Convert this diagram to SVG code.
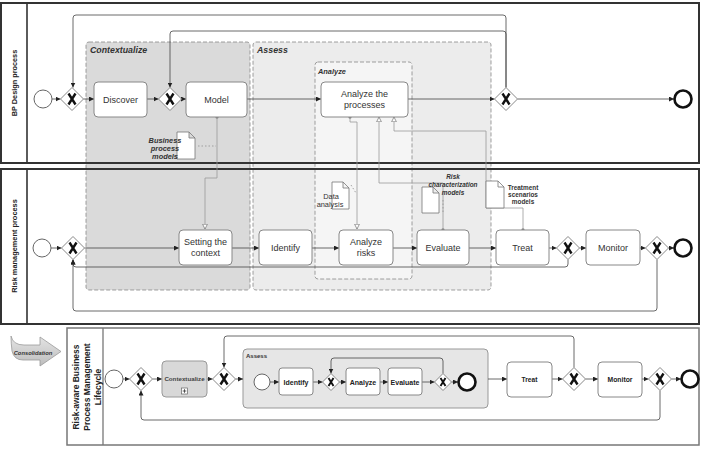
<svg xmlns="http://www.w3.org/2000/svg" width="701" height="453" viewBox="0 0 701 453">
<defs>
<style>
.pool{fill:none;stroke:#333;stroke-width:2}
.pool3{fill:none;stroke:#777;stroke-width:1.5}
.grp{stroke:#888;stroke-width:0.8;stroke-dasharray:4 2}
.task{fill:#fff;stroke:#888;stroke-width:1}
.gw{fill:#fff;stroke:#888;stroke-width:1}
.xm{stroke:#111;stroke-width:2.4;fill:none}
.xs{stroke:#111;stroke-width:1.9;fill:none}
.start{fill:#fff;stroke:#666;stroke-width:1}
.end{fill:#fff;stroke:#111;stroke-width:2.6}
.flow{fill:none;stroke:#444;stroke-width:0.8;marker-end:url(#arr)}
.data{fill:none;stroke:#999;stroke-width:0.8}
.dot{fill:none;stroke:#999;stroke-width:0.9;stroke-dasharray:1.5 2}
.doc{fill:#fff;stroke:#777;stroke-width:0.8}
.t{font-family:"Liberation Sans",Arial,sans-serif;font-size:9px;fill:#333;text-anchor:middle}
.b{font-weight:bold}
.i{font-style:italic}
.s{font-size:7px;font-weight:bold;fill:#222}
</style>
<marker id="arr" viewBox="0 0 8 8" refX="8" refY="4" markerWidth="5" markerHeight="5" markerUnits="userSpaceOnUse" orient="auto"><path d="M0,0 L8,4 L0,8 z" fill="#222"/></marker>
<marker id="hol" viewBox="0 0 10 10" refX="9" refY="5" markerWidth="6" markerHeight="6" markerUnits="userSpaceOnUse" orient="auto"><path d="M1,1 L9,5 L1,9 z" fill="#fff" stroke="#777" stroke-width="1.2"/></marker>
<marker id="dt" viewBox="0 0 6 6" refX="3" refY="3" markerWidth="4" markerHeight="4" markerUnits="userSpaceOnUse"><circle cx="3" cy="3" r="2.5" fill="#888"/></marker>
<linearGradient id="cg" x1="0" y1="0" x2="0" y2="1"><stop offset="0" stop-color="#e4e4e4"/><stop offset="1" stop-color="#bdbdbd"/></linearGradient>
</defs>

<!-- pool backgrounds -->
<rect x="1" y="3" width="698" height="160" fill="#fff"/>
<rect x="1" y="169" width="698" height="155" fill="#fff"/>
<rect x="67" y="328" width="632" height="117" fill="#fff"/>

<!-- groups -->
<g id="group-contextualize">
<rect class="grp" x="86" y="42" width="164" height="248" rx="3" fill="#dadada"/>
<text class="t b i" x="90" y="53" style="text-anchor:start;font-size:8.8px;fill:#333">Contextualize</text>
</g>
<g id="group-assess">
<rect class="grp" x="253" y="42" width="238" height="248" rx="3" fill="#ececec"/>
<text class="t b i" x="257" y="53" style="text-anchor:start;font-size:8.8px;fill:#333">Assess</text>
</g>
<g id="group-analyze">
<rect class="grp" x="315" y="62" width="97" height="217" rx="3" fill="#f5f5f5"/>
<text class="t b i" x="318" y="74" style="text-anchor:start;font-size:7.4px;fill:#333">Analyze</text>
</g>

<!-- pool outlines -->
<g id="pool-bp">
<rect class="pool" x="1" y="3" width="698" height="160"/>
<line x1="27" y1="3" x2="27" y2="163" stroke="#333" stroke-width="1.6"/>
<text class="t b" transform="translate(17,83) rotate(-90)" style="font-size:7.3px;fill:#222">BP Design process</text>
</g>
<g id="pool-risk">
<rect class="pool" x="1" y="169" width="698" height="155"/>
<line x1="27" y1="169" x2="27" y2="324" stroke="#333" stroke-width="1.6"/>
<text class="t b" transform="translate(17,246) rotate(-90)" style="font-size:7.4px;fill:#222">Risk management process</text>
</g>
<g id="pool-lifecycle">
<rect class="pool3" x="67" y="328" width="632" height="117"/>
<line x1="103" y1="328" x2="103" y2="445" stroke="#777" stroke-width="1.3"/>
<text class="t b" transform="translate(78.5,387) rotate(-90)" style="font-size:8.5px;fill:#222">Risk-aware Business</text>
<text class="t b" transform="translate(89.5,387) rotate(-90)" style="font-size:8.5px;fill:#222">Process Management</text>
<text class="t b" transform="translate(100.5,387) rotate(-90)" style="font-size:8.5px;fill:#222">Lifecycle</text>
</g>

<g id="consolidation">
<path d="M11,336 Q13,345 24,345 L40,345 L40,337 L61,351.5 L40,366 L40,360 L23,360 Q14,360 12,351 Q11,343 11,336 Z" fill="url(#cg)" stroke="#999" stroke-width="0.8"/>
<text class="t b i" x="33" y="355" style="font-size:5.8px;fill:#333">Consolidation</text>
</g>

<g id="lc-assess">
<rect x="243" y="349" width="245" height="59" rx="4" fill="#e6e6e6" stroke="#999"/>
<text class="t b" x="246" y="358" style="text-anchor:start;font-size:6px;fill:#333">Assess</text>
</g>

<!-- connectors -->
<g id="connectors">
<!-- pool 1 -->
<line class="flow" x1="52" y1="99" x2="60.5" y2="99"/>
<line class="flow" x1="83.5" y1="99" x2="94" y2="99"/>
<line class="flow" x1="147" y1="99" x2="158.5" y2="99"/>
<line class="flow" x1="181.5" y1="99" x2="186" y2="99"/>
<line class="flow" x1="247" y1="99" x2="321" y2="99"/>
<line class="flow" x1="408" y1="99" x2="494.5" y2="99"/>
<line class="flow" x1="517.5" y1="99" x2="674" y2="99"/>
<path class="flow" d="M506,87.5 V18 Q506,15 503,15 H76 Q73,15 73,18 V87.5"/>
<path class="flow" d="M506,87.5 V34 Q506,31 503,31 H173 Q170,31 170,34 V87.5"/>
<!-- pool 2 -->
<line class="flow" x1="51" y1="248" x2="61.5" y2="248"/>
<line class="flow" x1="84.5" y1="248" x2="179" y2="248"/>
<line class="flow" x1="232" y1="248" x2="259" y2="248"/>
<line class="flow" x1="312" y1="248" x2="339" y2="248"/>
<line class="flow" x1="393" y1="248" x2="417" y2="248"/>
<line class="flow" x1="469" y1="248" x2="496" y2="248"/>
<line class="flow" x1="549" y1="248" x2="556.5" y2="248"/>
<line class="flow" x1="579.5" y1="248" x2="586" y2="248"/>
<line class="flow" x1="640" y1="248" x2="645.5" y2="248"/>
<line class="flow" x1="668.5" y1="248" x2="674" y2="248"/>
<path class="flow" d="M568,259.5 V264 Q568,267 565,267 H76 Q73,267 73,264 V259.5"/>
<path class="flow" d="M657,259.5 V308 Q657,311 654,311 H76 Q73,311 73,308 V259.5"/>
<!-- data flows -->
<path class="data" d="M217,117 V178 H205 V229" marker-start="url(#dt)" marker-end="url(#hol)"/>
<path class="data" d="M350,117 V122 H357 V229" marker-start="url(#dt)" marker-end="url(#hol)"/>
<path class="data" d="M443,230 V183 H379 V117" marker-start="url(#dt)" marker-end="url(#hol)"/>
<path class="data" d="M523,230 V208 H486 V131 H394 V117" marker-start="url(#dt)" marker-end="url(#hol)"/>
<line class="dot" x1="198" y1="146" x2="216" y2="146"/>
<line class="dot" x1="351" y1="185" x2="356" y2="193"/>
<line class="dot" x1="443" y1="200" x2="443" y2="214"/>
<!-- pool 3 -->
<line class="flow" x1="123" y1="379" x2="129.5" y2="379"/>
<line class="flow" x1="152.5" y1="379" x2="162" y2="379"/>
<line class="flow" x1="207" y1="379" x2="212.5" y2="379"/>
<line class="flow" x1="235.5" y1="379" x2="243" y2="379"/>
<line class="flow" x1="488" y1="379" x2="507" y2="379"/>
<line class="flow" x1="552" y1="379" x2="562.5" y2="379"/>
<line class="flow" x1="585.5" y1="379" x2="598" y2="379"/>
<line class="flow" x1="642" y1="379" x2="648.5" y2="379"/>
<line class="flow" x1="671.5" y1="379" x2="681" y2="379"/>
<path class="flow" d="M574,367.5 V339 Q574,336 571,336 H227 Q224,336 224,339 V367.5"/>
<path class="flow" d="M660,390.5 V417 Q660,420 657,420 H144 Q141,420 141,417 V390.5"/>
<line class="flow" x1="270" y1="382" x2="279" y2="382"/>
<line class="flow" x1="313" y1="382" x2="322.5" y2="382"/>
<line class="flow" x1="339.5" y1="382" x2="346" y2="382"/>
<line class="flow" x1="380" y1="382" x2="388" y2="382"/>
<line class="flow" x1="422" y1="382" x2="434.5" y2="382"/>
<line class="flow" x1="451.5" y1="382" x2="458" y2="382"/>
<path class="flow" d="M443,373.5 V361 Q443,358 440,358 H334 Q331,358 331,361 V373.5"/>
</g>

<!-- pool 1 nodes -->
<g id="bp-start"><circle class="start" cx="43" cy="99" r="9"/></g>
<g id="bp-gw1"><polygon class="gw" points="72,87.5 83.5,99 72,110.5 60.5,99"/><path class="xm" d="M68.5,93.5 L75.5,104.5 M75.5,93.5 L68.5,104.5"/></g>
<g id="bp-discover"><rect class="task" x="94" y="82" width="53" height="35" rx="4"/><text class="t" x="120.5" y="102.5">Discover</text></g>
<g id="bp-gw2"><polygon class="gw" points="170,87.5 181.5,99 170,110.5 158.5,99"/><path class="xm" d="M166.5,93.5 L173.5,104.5 M173.5,93.5 L166.5,104.5"/></g>
<g id="bp-model"><rect class="task" x="186" y="82" width="61" height="35" rx="4"/><text class="t" x="216.5" y="102.5">Model</text></g>
<g id="bp-doc"><path class="doc" d="M177,132 H189 L195,138 V159 H177 Z M189,132 V138 H195"/>
<text class="t b i" x="165" y="143" style="font-size:7.4px;fill:#333">Business</text>
<text class="t b i" x="165" y="151" style="font-size:7.4px;fill:#333">process</text>
<text class="t b i" x="165" y="159" style="font-size:7.4px;fill:#333">models</text></g>
<g id="bp-analyze"><rect class="task" x="321" y="82" width="87" height="35" rx="4"/><text class="t" x="364.5" y="97">Analyze the</text><text class="t" x="364.5" y="108">processes</text></g>
<g id="bp-gw3"><polygon class="gw" points="506,87.5 517.5,99 506,110.5 494.5,99"/><path class="xm" d="M502.5,93.5 L509.5,104.5 M509.5,93.5 L502.5,104.5"/></g>
<g id="bp-end"><circle class="end" cx="683" cy="99" r="8.5"/></g>

<!-- pool 2 nodes -->
<g id="rm-start"><circle class="start" cx="42" cy="248" r="9"/></g>
<g id="rm-gw1"><polygon class="gw" points="73,236.5 84.5,248 73,259.5 61.5,248"/><path class="xm" d="M69.5,242.5 L76.5,253.5 M76.5,242.5 L69.5,253.5"/></g>
<g id="rm-setting"><rect class="task" x="179" y="230" width="53" height="35" rx="4"/><text class="t" x="205.5" y="245">Setting the</text><text class="t" x="205.5" y="256">context</text></g>
<g id="rm-identify"><rect class="task" x="259" y="230" width="53" height="35" rx="4"/><text class="t" x="285.5" y="251">Identify</text></g>
<g id="rm-doc-data"><path class="doc" d="M332,182 H343 L349,188 V209 H332 Z M343,182 V188 H349"/>
<text class="t" x="331" y="199" style="font-size:7.4px">Data</text><text class="t" x="330" y="207" style="font-size:7.4px">analysis</text></g>
<g id="rm-analyze"><rect class="task" x="339" y="230" width="54" height="35" rx="4"/><text class="t" x="366" y="245">Analyze</text><text class="t" x="366" y="256">risks</text></g>
<g id="rm-doc-risk"><path class="doc" d="M422,187 H433 L439,193 V213 H422 Z M433,187 V193 H439"/>
<text class="t b i" x="453" y="179" style="font-size:6.4px;fill:#333">Risk</text>
<text class="t b i" x="453" y="187" style="font-size:6.4px;fill:#333">characterization</text>
<text class="t b i" x="453" y="195" style="font-size:6.4px;fill:#333">models</text></g>
<g id="rm-evaluate"><rect class="task" x="417" y="230" width="52" height="35" rx="4"/><text class="t" x="443" y="251">Evaluate</text></g>
<g id="rm-doc-treat"><path class="doc" d="M486,181 H498 L504,187 V208 H486 Z M498,181 V187 H504"/>
<text class="t b" x="523" y="190" style="font-size:6.4px;fill:#333">Treatment</text>
<text class="t b" x="523" y="197" style="font-size:6.4px;fill:#333">scenarios</text>
<text class="t b" x="523" y="204" style="font-size:6.4px;fill:#333">models</text></g>
<g id="rm-treat"><rect class="task" x="496" y="230" width="53" height="35" rx="4"/><text class="t" x="522.5" y="251">Treat</text></g>
<g id="rm-gw2"><polygon class="gw" points="568,236.5 579.5,248 568,259.5 556.5,248"/><path class="xm" d="M564.5,242.5 L571.5,253.5 M571.5,242.5 L564.5,253.5"/></g>
<g id="rm-monitor"><rect class="task" x="586" y="230" width="54" height="35" rx="4"/><text class="t" x="613" y="251">Monitor</text></g>
<g id="rm-gw3"><polygon class="gw" points="657,236.5 668.5,248 657,259.5 645.5,248"/><path class="xm" d="M653.5,242.5 L660.5,253.5 M660.5,242.5 L653.5,253.5"/></g>
<g id="rm-end"><circle class="end" cx="683" cy="248" r="8.5"/></g>

<!-- pool 3 nodes -->
<g id="lc-start"><circle class="start" cx="114" cy="379" r="9"/></g>
<g id="lc-gw1"><polygon class="gw" points="141,367.5 152.5,379 141,390.5 129.5,379"/><path class="xm" d="M137.5,373.5 L144.5,384.5 M144.5,373.5 L137.5,384.5"/></g>
<g id="lc-contextualize"><rect x="162" y="361" width="45" height="36" rx="4" fill="#d8d8d8" stroke="#999"/><text class="t b" x="184.5" y="381" style="font-size:6.2px;fill:#444">Contextualize</text><rect x="181.5" y="388" width="6" height="6" fill="#fff" stroke="#666" stroke-width="0.7"/><path d="M184.5,389.2 V392.8 M182.7,391 H186.3" stroke="#333" stroke-width="0.8"/></g>
<g id="lc-gw2"><polygon class="gw" points="224,367.5 235.5,379 224,390.5 212.5,379"/><path class="xm" d="M220.5,373.5 L227.5,384.5 M227.5,373.5 L220.5,384.5"/></g>
<g id="lc-a-start"><circle class="start" cx="262" cy="382" r="8"/></g>
<g id="lc-a-identify"><rect class="task" x="279" y="368" width="34" height="27" rx="3"/><text class="t s" x="296" y="384.5">Identify</text></g>
<g id="lc-a-gw1"><polygon class="gw" points="331,373.5 339.5,382 331,390.5 322.5,382"/><path class="xs" d="M328.5,378 L333.5,386 M333.5,378 L328.5,386"/></g>
<g id="lc-a-analyze"><rect class="task" x="346" y="368" width="34" height="27" rx="3"/><text class="t s" x="363" y="384.5">Analyze</text></g>
<g id="lc-a-evaluate"><rect class="task" x="388" y="368" width="34" height="27" rx="3"/><text class="t s" x="405" y="384.5">Evaluate</text></g>
<g id="lc-a-gw2"><polygon class="gw" points="443,373.5 451.5,382 443,390.5 434.5,382"/><path class="xs" d="M440.5,378 L445.5,386 M445.5,378 L440.5,386"/></g>
<g id="lc-a-end"><circle class="end" cx="467" cy="382" r="8.5"/></g>
<g id="lc-treat"><rect class="task" x="507" y="362" width="45" height="35" rx="4"/><text class="t s" x="529.5" y="381.5" style="font-size:6.6px">Treat</text></g>
<g id="lc-gw3"><polygon class="gw" points="574,367.5 585.5,379 574,390.5 562.5,379"/><path class="xm" d="M570.5,373.5 L577.5,384.5 M577.5,373.5 L570.5,384.5"/></g>
<g id="lc-monitor"><rect class="task" x="598" y="362" width="44" height="35" rx="4"/><text class="t s" x="620" y="381.5" style="font-size:6.8px">Monitor</text></g>
<g id="lc-gw4"><polygon class="gw" points="660,367.5 671.5,379 660,390.5 648.5,379"/><path class="xm" d="M656.5,373.5 L663.5,384.5 M663.5,373.5 L656.5,384.5"/></g>
<g id="lc-end"><circle class="end" cx="690" cy="379" r="8.5"/></g>
</svg>
